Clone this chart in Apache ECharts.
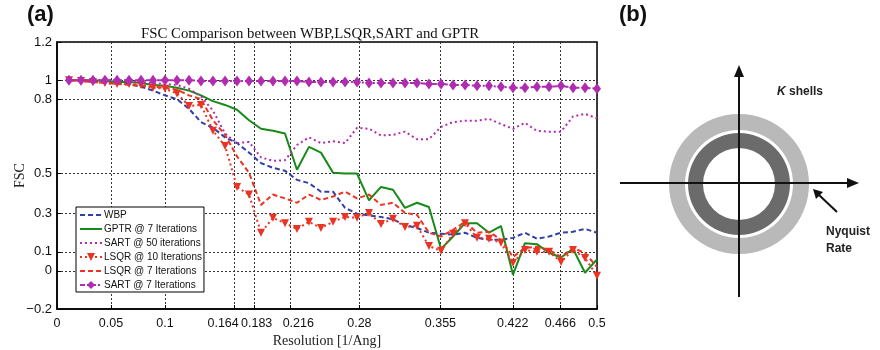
<!DOCTYPE html>
<html>
<head>
<meta charset="utf-8">
<script src="https://cdn.jsdelivr.net/npm/echarts@6/dist/echarts.min.js"></script>
<style>
html,body{margin:0;padding:0;background:#fff;}
#chart{width:880px;height:350px;}
</style>
</head>
<body>
<div id="chart"></div>
<script>
// Resolution sample points [1/Ang]
var resolution = [0.0111,0.0222,0.0333,0.0444,0.0556,0.0667,0.0778,0.0889,0.1,0.1111,
  0.1222,0.1333,0.1444,0.1556,0.1667,0.1778,0.1889,0.2,0.2111,0.2222,
  0.2333,0.2444,0.2556,0.2667,0.2778,0.2889,0.3,0.3111,0.3222,0.3333,
  0.3444,0.3556,0.3667,0.3778,0.3889,0.4,0.4111,0.4222,0.4333,0.4444,
  0.4556,0.4667,0.4778,0.4889,0.5];

var wbp = [1.0,1.0,0.995,0.995,0.99,0.98,0.965,0.945,0.92,0.9,
  0.85,0.78,0.75,0.70,0.67,0.62,0.565,0.54,0.525,0.477,
  0.46,0.415,0.415,0.33,0.30,0.29,0.283,0.27,0.24,0.225,
  0.2,0.195,0.19,0.2,0.173,0.163,0.163,0.173,0.2,0.168,
  0.18,0.2,0.205,0.22,0.2];

var gptr7 = [1.0,1.0,1.0,0.995,0.99,0.99,0.985,0.975,0.97,0.96,
  0.945,0.92,0.89,0.87,0.845,0.79,0.745,0.735,0.72,0.53,
  0.65,0.62,0.514,0.51,0.51,0.37,0.44,0.425,0.33,0.357,
  0.335,0.115,0.18,0.25,0.25,0.2,0.235,-0.02,0.145,0.14,
  0.095,0.07,0.115,-0.01,0.06];

var sart50 = [1.0,1.0,1.0,1.0,1.0,0.995,0.99,0.985,0.98,0.975,
  0.955,0.915,0.84,0.72,0.67,0.676,0.595,0.577,0.58,0.66,
  0.70,0.67,0.68,0.67,0.75,0.745,0.71,0.713,0.73,0.69,
  0.69,0.755,0.78,0.787,0.787,0.797,0.77,0.745,0.776,0.734,
  0.73,0.73,0.81,0.823,0.80];

var lsqr10 = [1.0,0.995,0.99,0.985,0.98,0.98,0.975,0.96,0.955,0.93,
  0.865,0.87,0.735,0.655,0.44,0.40,0.2,0.278,0.25,0.22,
  0.257,0.225,0.257,0.283,0.278,0.304,0.246,0.273,0.23,0.236,
  0.13,0.105,0.194,0.25,0.173,0.168,0.147,0.042,0.11,0.1,
  0.1,0.047,0.11,0.068,-0.026];

var lsqr7 = [1.0,0.995,0.99,0.985,0.98,0.975,0.97,0.965,0.96,0.95,
  0.92,0.90,0.79,0.713,0.6,0.514,0.346,0.40,0.38,0.357,
  0.40,0.372,0.39,0.415,0.38,0.40,0.346,0.357,0.304,0.294,
  0.2,0.18,0.215,0.257,0.2,0.205,0.163,0.073,0.12,0.126,
  0.11,0.073,0.12,0.094,0.02];

var sart7 = [1.0,1.0,1.0,1.0,1.0,1.0,1.0,1.0,1.0,1.0,
  1.0,0.995,0.995,0.995,0.995,0.995,0.995,0.995,0.995,0.995,
  0.99,0.99,0.99,0.99,0.99,0.985,0.985,0.985,0.985,0.985,
  0.98,0.98,0.975,0.975,0.97,0.97,0.965,0.96,0.96,0.965,
  0.965,0.97,0.96,0.96,0.955];

var seriesNames = ['WBP','GPTR @ 7 Iterations','SART @ 50 iterations','LSQR @ 10 Iterations','LSQR @ 7 Iterations','SART @ 7 Iterations'];

var xTickValues = [0,0.05,0.1,0.164,0.183,0.216,0.28,0.355,0.422,0.466,0.5];
var xTickLabels = ['0','0.05','0.1','0.164','0.183','0.216','0.28','0.355','0.422','0.466','0.5'];
var yTickValues = [-0.2,0,0.1,0.3,0.51,0.9,1,1.2];
var yTickLabels = ['\u22120.2','0','0.1','0.3','0.5','0.8','1','1.2'];

function pairs(arr){ return arr.map(function(v,i){ return [resolution[i], v]; }); }
function indexOfTick(values, v){
  for (var i=0;i<values.length;i++){ if (Math.abs(values[i]-v)<1e-6) return i; }
  return -1;
}

var sans = 'Liberation Sans, Arial, sans-serif';
var serif = 'Liberation Serif, Times New Roman, serif';
var gridLine = {show:true, lineStyle:{color:'#333', type:[2,2], width:1}};

// label nudges for the crowded x labels (style only)
var xLabelStyleKey = {'0.164':'l', '0.183':'m', '0.216':'r'};
var xLabelFont = {fontFamily:sans, fontSize:12.5, color:'#111'};

var chart = echarts.init(document.getElementById('chart'), null, {renderer:'canvas'});
chart.setOption({
  animation:false,
  backgroundColor:'#fff',
  title:{
    text:'FSC Comparison between WBP,LSQR,SART and GPTR',
    left:136, top:22,
    textStyle:{fontFamily:serif, fontSize:14.8, fontWeight:'normal', color:'#111'}
  },
  grid:{left:57, right:283, top:42, bottom:41, containLabel:false, outerBoundsMode:'none',
    show:true, borderColor:'#000', borderWidth:1.5, backgroundColor:'#fff'},
  legend:{
    data:seriesNames.map(function(n, i){
      var hasMarker = (i === 3 || i === 5);
      return hasMarker ? {name:n} : {name:n, itemStyle:{opacity:0}};
    }),
    orient:'vertical',
    left:76, top:207,
    backgroundColor:'#fff',
    borderColor:'#000', borderWidth:1,
    borderRadius:0,
    padding:[3,2,2,3],
    itemGap:4,
    itemWidth:22, itemHeight:10,
    textStyle:{fontFamily:sans, fontSize:10, color:'#111', padding:[0,0,0,-3]}
  },
  xAxis:{
    type:'value', min:0, max:0.5,
    name:'Resolution [1/Ang]', nameLocation:'middle', nameGap:25, nameMoveOverlap:false,
    nameTextStyle:{fontFamily:serif, fontSize:14, color:'#222'},
    axisLine:{show:true, onZero:false, lineStyle:{color:'#000', width:1.5}},
    axisTick:{show:true, inside:true, length:4, customValues:xTickValues, lineStyle:{color:'#000'}},
    axisLabel:{
      customValues:xTickValues,
      formatter:function(v){
        var i = indexOfTick(xTickValues, v);
        if (i < 0) return '';
        var t = xTickLabels[i];
        var k = xLabelStyleKey[t];
        return k ? '{' + k + '|' + t + '}' : t;
      },
      fontFamily:sans, fontSize:12.5, color:'#111', margin:8, hideOverlap:false,
      rich:{
        l:Object.assign({padding:[0,22,0,0]}, xLabelFont),
        m:Object.assign({padding:[0,0,0,4]}, xLabelFont),
        r:Object.assign({padding:[0,0,0,16]}, xLabelFont)
      }
    },
    splitLine:gridLine
  },
  yAxis:{
    type:'value', min:-0.2, max:1.2,
    name:'FSC', nameLocation:'middle', nameGap:30, nameRotate:90, nameMoveOverlap:false,
    nameTextStyle:{fontFamily:serif, fontSize:14, color:'#222'},
    axisLine:{show:true, onZero:false, lineStyle:{color:'#000', width:1.5}},
    axisTick:{show:true, inside:true, length:4, customValues:yTickValues, lineStyle:{color:'#000'}},
    axisLabel:{
      customValues:yTickValues,
      formatter:function(v){ var i = indexOfTick(yTickValues, v); return i < 0 ? '' : yTickLabels[i]; },
      fontFamily:sans, fontSize:13, color:'#111', margin:5, hideOverlap:false
    },
    splitLine:gridLine
  },
  series:[
    {name:seriesNames[0], type:'line', data:pairs(wbp), symbol:'none', color:'#3040a8',
      lineStyle:{color:'#3040a8', width:2, type:[5,3]}},
    {name:seriesNames[1], type:'line', data:pairs(gptr7), symbol:'none', color:'#178a17',
      lineStyle:{color:'#178a17', width:2}},
    {name:seriesNames[2], type:'line', data:pairs(sart50), symbol:'none', color:'#b02cb0',
      lineStyle:{color:'#b02cb0', width:2, type:[2,3]}},
    {name:seriesNames[3], type:'line', data:pairs(lsqr10), symbol:'triangle', symbolRotate:180, symbolSize:8, showAllSymbol:true, color:'#ea3323',
      itemStyle:{color:'#ea3323'},
      lineStyle:{color:'#ea3323', width:2, type:[2,3]}},
    {name:seriesNames[4], type:'line', data:pairs(lsqr7), symbol:'none', color:'#ea3323',
      lineStyle:{color:'#ea3323', width:2, type:[5,3]}},
    {name:seriesNames[5], type:'line', data:pairs(sart7), symbol:'diamond', symbolSize:[8,11], showAllSymbol:true, color:'#b02cb0',
      itemStyle:{color:'#b02cb0'},
      lineStyle:{color:'#b02cb0', width:2, type:[5,2,2,2]}}
  ],
  graphic:[
    {type:'text', left:27, top:4, style:{text:'(a)', fontFamily:sans, fontSize:22, fontWeight:'bold', fill:'#111'}},
    {type:'text', left:619, top:4, style:{text:'(b)', fontFamily:sans, fontSize:22, fontWeight:'bold', fill:'#111'}},
    {type:'ring', shape:{cx:739, cy:184, r:70, r0:54}, style:{fill:'#b9b9b9'}},
    {type:'ring', shape:{cx:739, cy:184, r:51, r0:36}, style:{fill:'#6b6b6b'}},
    {type:'line', shape:{x1:739, y1:74, x2:739, y2:297}, style:{stroke:'#111', lineWidth:2}},
    {type:'polygon', shape:{points:[[739,65],[734,77],[744,77]]}, style:{fill:'#111'}},
    {type:'line', shape:{x1:620, y1:183, x2:850, y2:183}, style:{stroke:'#111', lineWidth:2}},
    {type:'polygon', shape:{points:[[859,183],[847,178],[847,188]]}, style:{fill:'#111'}},
    {type:'line', shape:{x1:837, y1:212, x2:819, y2:195}, style:{stroke:'#111', lineWidth:2}},
    {type:'polygon', shape:{points:[[813,189],[823,192],[816,199]]}, style:{fill:'#111'}},
    {type:'text', left:777, top:86, style:{text:'{k|K} shells', fontFamily:sans, fontSize:12, fontWeight:'bold', fill:'#222',
      rich:{k:{fontStyle:'italic', fontWeight:'bold', fontFamily:sans, fontSize:12, fill:'#222'}}}},
    {type:'text', left:826, top:226, style:{text:'Nyquist', fontFamily:sans, fontSize:12, fontWeight:'bold', fill:'#222'}},
    {type:'text', left:826, top:243, style:{text:'Rate', fontFamily:sans, fontSize:12, fontWeight:'bold', fill:'#222'}}
  ]
});
</script>
</body>
</html>
